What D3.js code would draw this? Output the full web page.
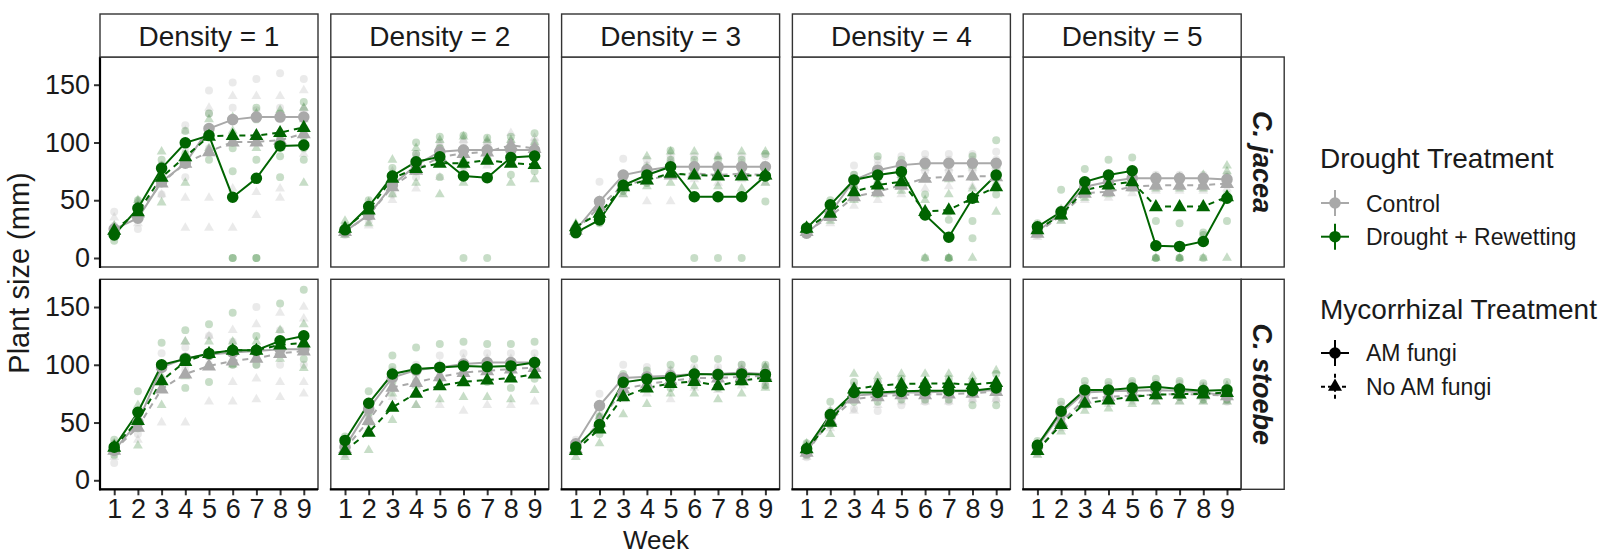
<!DOCTYPE html>
<html>
<head>
<meta charset="utf-8">
<script src="https://cdn.jsdelivr.net/npm/d3@7"></script>
<style>
  html, body { margin: 0; padding: 0; background: #fff; }
  svg { display: block; font-family: "Liberation Sans", Arial, Helvetica, sans-serif; }
</style>
</head>
<body>
<svg id="chart" width="1604" height="555"></svg>
<script>
// ---- categories ----
const weeks = [1, 2, 3, 4, 5, 6, 7, 8, 9];
const densities = [1, 2, 3, 4, 5];
const speciesNames = ["C. jacea", "C. stoebe"];
const yTicks = [0, 50, 100, 150];
const droughtLabels = ["Control", "Drought + Rewetting"];
const mycoLabels = ["AM fungi", "No AM fungi"];

// ---- mean plant size (mm), one row per density, one value per week ----
const jaceaControlAM = [
  [25, 34.5, 66, 82, 112, 119.8, 122, 122, 122],
  [23, 37.3, 63, 80.4, 92, 93.4, 93.4, 93.4, 93.4],
  [24.4, 48.8, 71.8, 76, 79, 79, 79, 79, 79],
  [21.5, 38.8, 67.5, 76, 80.4, 82, 82, 82, 82],
  [23, 38.8, 61.7, 66, 69, 69, 69, 69, 68]
];
const jaceaControlNoAM = [
  [24, 39, 65, 82, 92, 100.5, 100.5, 102, 107.7],
  [23, 37, 61.7, 76, 87.6, 90.5, 91.8, 97.7, 94.8],
  [24, 44.5, 63, 67.5, 71.8, 73.3, 71.8, 73, 71.8],
  [23, 35.9, 53, 57.4, 63, 69, 70.4, 71, 70.4],
  [21.5, 37, 56, 57.4, 61.7, 63, 63, 63, 64.6]
];
const jaceaDroughtAM = [
  [20, 43, 77.6, 99.7, 106, 52.6, 69, 97, 97.7],
  [24.4, 44.5, 71, 83.3, 87.6, 71, 69.5, 87, 88.2],
  [22, 33, 63, 71.8, 79, 53, 53, 53, 71],
  [25.8, 46, 67.5, 71.8, 74.7, 37.3, 18, 51.7, 71.8],
  [27, 40, 66, 71.8, 75.5, 10.6, 10, 14.3, 51.7]
];
const jaceaDroughtNoAM = [
  [24, 40, 70, 87.6, 105.4, 106, 106, 108.6, 113],
  [25.8, 41.6, 69, 77.6, 82, 82, 84.7, 82, 81],
  [27, 38.8, 61.7, 67.5, 73.3, 71.8, 71, 71, 71.8],
  [25.8, 38.8, 57.4, 63.2, 66, 40.2, 41.6, 51.7, 61.7],
  [24.4, 37.3, 58.9, 63.2, 66, 44.5, 44.5, 44.5, 53]
];
const stoebeControlAM = [
  [25.9, 50.3, 97.7, 105.7, 109, 110.6, 112, 113.5, 113.5],
  [28.7, 61.8, 89, 95.4, 97.7, 100.6, 102, 102, 102],
  [31.6, 64.7, 88.5, 89.6, 90.5, 92, 92, 93.4, 92],
  [24.4, 54.6, 73.3, 74.7, 76.1, 76.1, 77, 77, 78.2],
  [28.7, 58, 76.1, 77, 77.6, 78, 77.6, 76, 73.3]
];
const stoebeControlNoAM = [
  [26, 46, 79, 92, 99, 103.4, 105.7, 109.8, 112],
  [27.3, 51.7, 80.5, 84.8, 89.6, 93.4, 94.8, 96.3, 97.7],
  [27.3, 50.3, 79, 83.3, 86.2, 88.5, 88.5, 89.6, 90.5],
  [24.4, 51.7, 70.4, 72.4, 74.1, 74.1, 74.7, 75.3, 77],
  [25.9, 50.3, 70.4, 72.4, 73.3, 74.1, 74.7, 74.1, 73.3]
];
const stoebeDroughtAM = [
  [28.7, 58.9, 100, 105, 109.8, 112.6, 112.6, 120.7, 125],
  [34.5, 66.7, 92, 96.3, 97.7, 99, 98.3, 99, 102],
  [28.7, 48.3, 84.8, 87.6, 89, 92, 91.5, 92, 91.5],
  [27.3, 56.9, 76.1, 76.1, 77, 77.6, 77.6, 77.6, 79.9],
  [30.2, 59.8, 78.2, 78.2, 79.9, 81, 79, 77.6, 78.2]
];
const stoebeDroughtNoAM = [
  [28.7, 51.7, 86.2, 102.9, 109.8, 112.6, 112.6, 117.2, 119],
  [25.9, 41.6, 63.2, 75.3, 81.9, 85.3, 86.8, 88.5, 92],
  [25.9, 44.5, 72.4, 79.9, 83.9, 85.6, 81.9, 86.2, 89],
  [27.3, 50.3, 79, 81.9, 83.3, 83.9, 83.9, 82.8, 84.8],
  [25.9, 48.3, 66.7, 69.5, 72.4, 74.1, 74.7, 74.7, 76.1]
];

// ---- individual plants (mm): density -> week -> plants ----
const jaceaControlAMPlants = [
  [[18, 28, 40], [25, 38, 45], [55, 72, 80], [70, 95, 115], [95, 125, 145], [100, 130, 152], [105, 128, 155], [100, 130, 160], [100, 128, 155]],
  [[20, 26], [32, 40], [55, 65, 72], [70, 85, 90], [85, 95, 100], [85, 95, 100], [85, 95, 100], [88, 95, 100], [88, 95, 100]],
  [[22, 26], [45, 66], [65, 86], [70, 80, 85], [75, 82, 88], [72, 80, 88], [72, 80, 88], [72, 82, 88], [72, 80, 88]],
  [[20, 24], [35, 42], [60, 72, 80], [70, 80, 85], [75, 82, 88], [75, 85, 90], [75, 85, 90], [75, 85, 90], [75, 85, 92]],
  [[20, 25], [35, 42], [58, 66], [62, 70], [65, 72], [65, 72], [65, 72], [65, 72], [64, 72]]
];
const jaceaControlNoAMPlants = [
  [[20, 28, 35], [30, 42, 48], [55, 72, 80], [26, 52, 110], [26, 52, 130], [26, 60, 140], [37, 57, 140], [52, 60, 140], [90, 130, 145]],
  [[20, 25], [28, 40], [50, 62, 75], [60, 80, 88], [70, 90, 98], [78, 90, 102], [80, 92, 100], [85, 100, 108], [82, 98, 104]],
  [[22, 26], [40, 50], [55, 70], [49, 70, 80], [49, 78, 85], [68, 76, 82], [65, 75, 80], [68, 75, 80], [65, 72, 80]],
  [[20, 26], [30, 40], [45, 55, 62], [50, 58, 66], [55, 65, 72], [60, 70, 78], [62, 72, 78], [62, 72, 78], [62, 70, 78]],
  [[18, 24], [32, 40], [50, 60], [52, 62], [56, 66], [58, 68], [58, 68], [58, 68], [60, 70]]
];
const jaceaDroughtAMPlants = [
  [[15, 20, 25], [35, 45, 50], [70, 80, 85], [90, 100, 110], [85, 110, 125], [0, 0, 75, 95, 100], [0, 0, 85, 120, 130], [70, 88, 105, 125], [85, 95, 105, 135]],
  [[22, 28], [40, 50], [65, 78], [75, 90, 100], [70, 95, 105], [0, 80, 106], [0, 85, 104], [72, 95, 105], [75, 90, 108]],
  [[20, 24], [30, 36], [58, 66], [65, 78], [72, 85, 93], [0, 75, 85], [0, 75, 85], [0, 75, 85], [49, 78, 90]],
  [[22, 28], [40, 50], [62, 72], [65, 75, 88], [68, 78, 85], [0, 55, 80], [0, 0, 33, 40], [17, 32, 70, 88], [55, 72, 102]],
  [[24, 30], [35, 59], [58, 77], [62, 85], [66, 87], [0, 0, 32], [0, 0, 30], [0, 22, 20], [32, 55, 70]]
];
const jaceaDroughtNoAMPlants = [
  [[22, 28], [35, 45, 50], [48, 65, 92], [65, 88, 100], [95, 105, 120], [100, 110, 122], [95, 105, 125], [95, 110, 128], [65, 120, 130]],
  [[20, 32], [30, 48], [55, 72, 85], [65, 80, 95], [55, 85, 102], [65, 85, 105], [68, 88, 102], [65, 85, 102], [68, 88, 100]],
  [[24, 30], [35, 45], [55, 68], [62, 78, 88], [65, 80, 92], [62, 78, 92], [62, 78, 88], [60, 78, 92], [65, 78, 92]],
  [[22, 28], [32, 45], [50, 62], [55, 70], [58, 72], [0, 50, 70], [0, 55, 68], [0, 60, 80], [40, 65, 80]],
  [[22, 28], [32, 42], [52, 66], [55, 70], [60, 72], [0, 60, 70], [0, 60, 70], [0, 60, 72], [0, 75, 80]]
];
const stoebeControlAMPlants = [
  [[15, 25, 32], [40, 50, 60], [85, 100, 110], [95, 105, 115], [100, 110, 125], [100, 112, 120], [100, 112, 150], [100, 115, 130], [100, 112, 125]],
  [[25, 32], [55, 68], [80, 95], [90, 100], [90, 100, 108], [92, 100, 110], [95, 102, 110], [95, 102, 110], [95, 102, 110]],
  [[28, 35], [58, 75], [80, 100], [82, 98], [85, 95], [85, 98], [85, 98], [88, 100], [85, 98]],
  [[20, 28], [48, 60], [62, 82], [60, 85], [65, 85], [68, 82], [68, 85], [70, 85], [70, 85]],
  [[24, 32], [50, 65], [70, 82], [72, 82], [72, 84], [72, 84], [72, 84], [72, 82], [68, 80]]
];
const stoebeControlNoAMPlants = [
  [[20, 28], [35, 50, 55], [50, 85, 100], [50, 100, 120], [68, 100, 125], [68, 85, 130], [70, 88, 135], [72, 85, 145], [75, 85, 120, 140, 150]],
  [[22, 30], [45, 55], [72, 88], [65, 85, 95], [65, 90, 100], [60, 95, 105], [65, 95, 105], [65, 98, 105], [68, 98, 105]],
  [[24, 30], [45, 55], [70, 85], [75, 90], [70, 95], [80, 95], [78, 95], [82, 97], [82, 98]],
  [[20, 28], [45, 58], [60, 80], [65, 80], [68, 80], [68, 80], [68, 80], [70, 80], [70, 85]],
  [[22, 30], [45, 55], [64, 76], [66, 78], [68, 78], [68, 80], [68, 80], [68, 80], [68, 78]]
];
const stoebeDroughtAMPlants = [
  [[22, 30, 35], [45, 60, 77], [85, 100, 119], [80, 105, 130], [85, 110, 135], [100, 110, 145], [100, 110, 125], [110, 120, 153], [105, 125, 165]],
  [[28, 38], [58, 77], [85, 98, 108], [85, 96, 115], [88, 98, 118], [85, 100, 120], [85, 98, 118], [80, 98, 118], [88, 100, 120]],
  [[25, 32], [40, 55], [78, 92], [80, 95], [80, 100], [82, 105], [80, 105], [85, 100], [82, 100]],
  [[22, 32], [48, 68], [68, 85], [68, 85], [70, 88], [70, 85], [70, 88], [65, 85], [65, 92]],
  [[26, 34], [52, 68], [72, 86], [72, 85], [74, 86], [74, 88], [72, 86], [70, 84], [70, 85]]
];
const stoebeDroughtNoAMPlants = [
  [[25, 32], [30, 52, 65], [65, 90, 100], [90, 105, 120], [100, 110, 120], [100, 112, 120], [105, 112, 120], [105, 118, 130], [97, 120, 135]],
  [[20, 30], [26, 50], [52, 75], [65, 82], [70, 90], [72, 95], [72, 95], [70, 98], [78, 100]],
  [[20, 30], [32, 55], [57, 80], [66, 88], [75, 92], [75, 95], [70, 90], [75, 95], [80, 98]],
  [[24, 32], [40, 60], [70, 92], [75, 90], [75, 92], [76, 92], [76, 92], [75, 90], [78, 95]],
  [[22, 30], [42, 55], [60, 72], [62, 76], [66, 78], [68, 80], [68, 80], [68, 80], [68, 82]]
];

// ---- styling ----
const GREY = "#A9A9A9";
const GREEN = "#006400";
const INK = "#1a1a1a";
const BORDER = "#333333";

const series = [
  { means: [jaceaControlAM, stoebeControlAM], plants: [jaceaControlAMPlants, stoebeControlAMPlants], color: GREY, tri: false },
  { means: [jaceaControlNoAM, stoebeControlNoAM], plants: [jaceaControlNoAMPlants, stoebeControlNoAMPlants], color: GREY, tri: true },
  { means: [jaceaDroughtAM, stoebeDroughtAM], plants: [jaceaDroughtAMPlants, stoebeDroughtAMPlants], color: GREEN, tri: false },
  { means: [jaceaDroughtNoAM, stoebeDroughtNoAM], plants: [jaceaDroughtNoAMPlants, stoebeDroughtNoAMPlants], color: GREEN, tri: true }
];

// ---- layout ----
const panelW = 218, panelH = 210;
const colX = densities.map((d, i) => 100 + i * 230.8);
const rowY = speciesNames.map((s, i) => 57 + i * 222.3);
const stripH = 43, stripW = 43;
const TICK_FONT = "27px";

const svg = d3.select("#chart");

// discrete axis: 0.6 units of expansion on each side
const xPos = d3.scalePoint().domain(weeks).range([panelW * 0.6 / 9.2, panelW * 8.6 / 9.2]);
const y = d3.scaleLinear().domain([-7.8, 174]).range([panelH, 0]);

const symCircleBig = d3.symbol().type(d3.symbolCircle).size(105);
const symTriBig = d3.symbol().type(d3.symbolTriangle).size(85);
const symCircleSmall = d3.symbol().type(d3.symbolCircle).size(50);
const symTriSmall = d3.symbol().type(d3.symbolTriangle).size(42);

const line = d3.line().x((d, i) => xPos(weeks[i])).y(d => y(d));

speciesNames.forEach((sp, r) => {
  densities.forEach((dens, c) => {
    const g = svg.append("g").attr("transform", `translate(${colX[c]},${rowY[r]})`);
    g.append("rect").attr("width", panelW).attr("height", panelH).attr("fill", "#fff");

    const marks = g.append("g");

    // individual plants
    series.forEach(s => {
      const perWeek = s.plants[r][c];
      perWeek.forEach((vals, wi) => {
        vals.forEach(v => {
          marks.append("path")
            .attr("d", s.tri ? symTriSmall() : symCircleSmall())
            .attr("transform", `translate(${xPos(weeks[wi])},${y(v)})`)
            .attr("fill", s.color)
            .attr("fill-opacity", s.color === GREY ? 0.24 : 0.22);
        });
      });
    });

    // treatment means: lines
    series.forEach(s => {
      marks.append("path")
        .attr("d", line(s.means[r][c]))
        .attr("fill", "none")
        .attr("stroke", s.color)
        .attr("stroke-width", 2)
        .attr("stroke-dasharray", s.tri ? "6,5" : null);
    });
    // treatment means: points
    series.forEach(s => {
      s.means[r][c].forEach((v, wi) => {
        marks.append("path")
          .attr("d", s.tri ? symTriBig() : symCircleBig())
          .attr("transform", `translate(${xPos(weeks[wi])},${y(v) + (s.tri ? 0.5 : 0)})`)
          .attr("fill", s.color);
      });
    });

    // panel border
    g.append("rect").attr("width", panelW).attr("height", panelH)
      .attr("fill", "none").attr("stroke", BORDER).attr("stroke-width", 1.4);

    // y axis on first column
    if (c === 0) {
      const ax = g.append("g").call(d3.axisLeft(y).tickValues(yTicks).tickSize(6).tickPadding(4));
      ax.select(".domain").remove();
      ax.selectAll(".tick line").attr("stroke", BORDER).attr("stroke-width", 2);
      ax.selectAll(".tick text").attr("fill", INK).style("font-size", TICK_FONT)
        .style("font-family", "'Liberation Sans', Arial, sans-serif");
      g.append("line").attr("x1", 0).attr("x2", 0).attr("y1", 0).attr("y2", panelH + 1)
        .attr("stroke", "#000").attr("stroke-width", 2.2);
    }
    // x axis on bottom row
    if (r === speciesNames.length - 1) {
      const ax = g.append("g").attr("transform", `translate(0,${panelH})`)
        .call(d3.axisBottom(xPos).tickSize(6).tickPadding(4));
      ax.select(".domain").remove();
      ax.selectAll(".tick line").attr("stroke", BORDER).attr("stroke-width", 2);
      ax.selectAll(".tick text").attr("fill", INK).style("font-size", TICK_FONT)
        .style("font-family", "'Liberation Sans', Arial, sans-serif");
      g.append("line").attr("x1", -1).attr("x2", panelW).attr("y1", panelH).attr("y2", panelH)
        .attr("stroke", "#000").attr("stroke-width", 2.2);
    }

    // density strip on top row
    if (r === 0) {
      const st = svg.append("g").attr("transform", `translate(${colX[c]},${rowY[0] - stripH})`);
      st.append("rect").attr("width", panelW).attr("height", stripH)
        .attr("fill", "#fff").attr("stroke", BORDER).attr("stroke-width", 1.4);
      st.append("text").attr("x", panelW / 2).attr("y", stripH / 2 + 10)
        .attr("text-anchor", "middle").attr("fill", INK).style("font-size", "28px")
        .text(`Density = ${dens}`);
    }
  });

  // species strip on the right
  const sx = colX[densities.length - 1] + panelW;
  const st = svg.append("g").attr("transform", `translate(${sx},${rowY[r]})`);
  st.append("rect").attr("width", stripW).attr("height", panelH)
    .attr("fill", "#fff").attr("stroke", BORDER).attr("stroke-width", 1.4);
  st.append("text")
    .attr("transform", `translate(${stripW / 2 - 9.5},${panelH / 2}) rotate(90)`)
    .attr("text-anchor", "middle").attr("fill", INK)
    .style("font-size", "27px").style("font-weight", "bold").style("font-style", "italic")
    .text(sp);
});

// axis titles
svg.append("text").attr("x", 656).attr("y", 549).attr("text-anchor", "middle")
  .attr("fill", INK).style("font-size", "26px").text("Week");
svg.append("text").attr("transform", "translate(29,273) rotate(-90)").attr("text-anchor", "middle")
  .attr("fill", INK).style("font-size", "29px").text("Plant size (mm)");

// ---- legends ----
const lg = svg.append("g");
function legendKey(cx, cy, color, tri, dashed) {
  const k = lg.append("g").attr("transform", `translate(${cx},${cy})`);
  k.append("line").attr("x1", -14).attr("x2", 14).attr("y1", 0).attr("y2", 0)
    .attr("stroke", color).attr("stroke-width", 2).attr("stroke-dasharray", dashed ? "4,3" : null);
  k.append("line").attr("x1", 0).attr("x2", 0).attr("y1", -13).attr("y2", 13)
    .attr("stroke", color).attr("stroke-width", 2).attr("stroke-dasharray", dashed ? "4,3" : null);
  k.append("path").attr("d", tri ? symTriBig() : symCircleBig()).attr("fill", color);
}
lg.append("text").attr("x", 1320).attr("y", 168).attr("fill", INK).style("font-size", "28px").text("Drought Treatment");
[GREY, GREEN].forEach((col, i) => {
  const cy = 203 + i * 33.7;
  legendKey(1335, cy, col, false, false);
  lg.append("text").attr("x", 1366).attr("y", cy + 8.5).attr("fill", INK).style("font-size", "23px").text(droughtLabels[i]);
});
lg.append("text").attr("x", 1320).attr("y", 319).attr("fill", INK).style("font-size", "28px").text("Mycorrhizal Treatment");
["#000", "#000"].forEach((col, i) => {
  const cy = 353 + i * 33.7;
  legendKey(1335, cy, col, i === 1, i === 1);
  lg.append("text").attr("x", 1366).attr("y", cy + 8).attr("fill", INK).style("font-size", "23px").text(mycoLabels[i]);
});
</script>
</body>
</html>
